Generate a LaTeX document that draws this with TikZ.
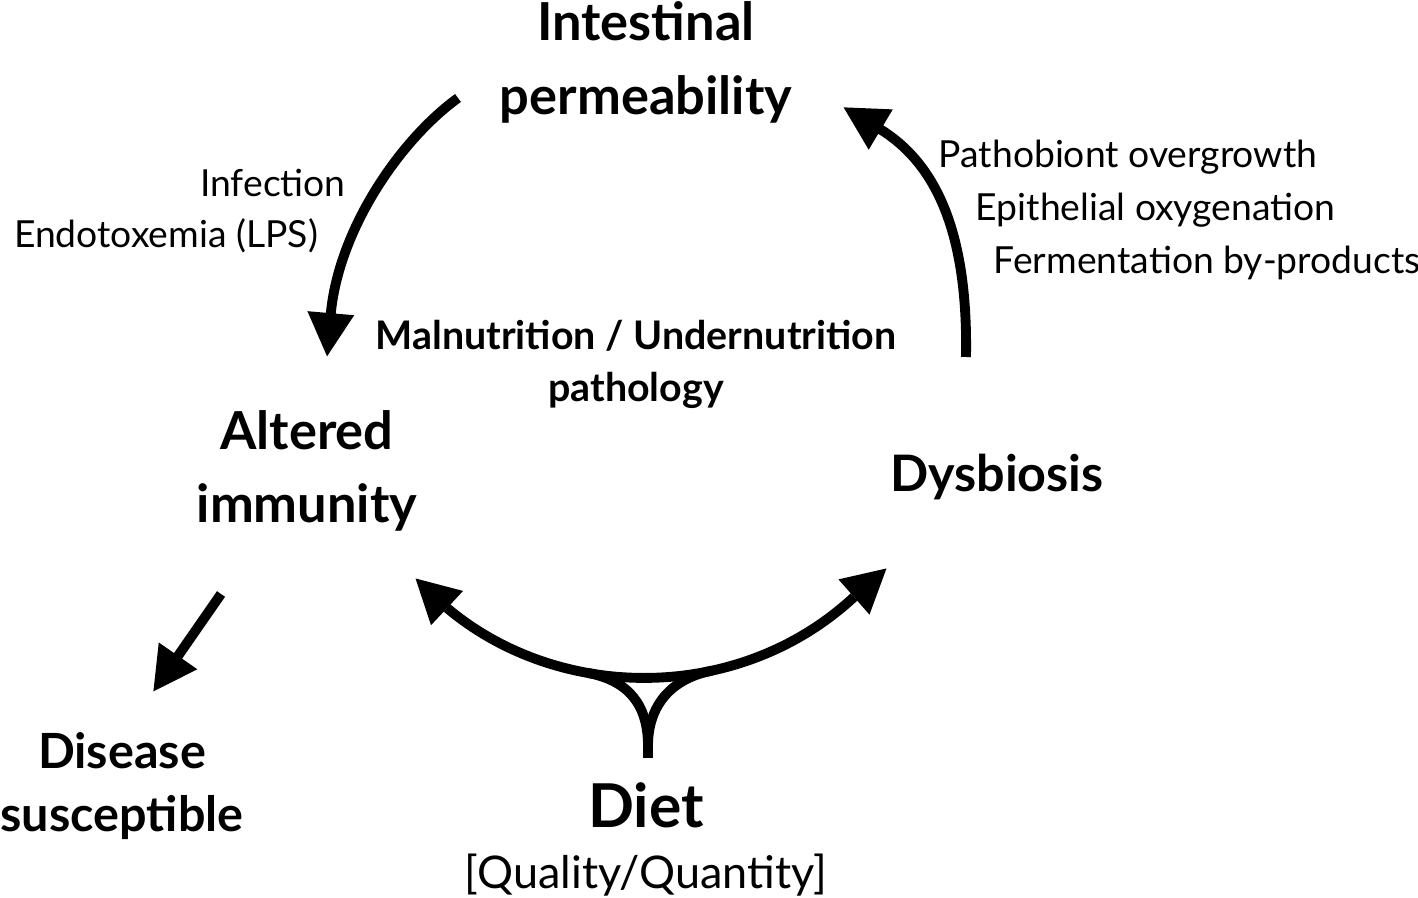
\documentclass[tikz,border=0pt]{standalone}
\usepackage{fontspec}
\setmainfont{Lato}
\usetikzlibrary{arrows.meta,calc}

\begin{document}
\begin{tikzpicture}
  [x=0.01cm,y=-0.01cm,every node/.style={inner sep=0pt,align=center},
   title/.style={font=\bfseries\fontsize{14.9}{21}\selectfont},
   note/.style={font=\fontsize{10.6}{13}\selectfont},
   arr/.style={line width=2.8pt,-{Triangle[length=12.5pt,width=12.5pt]}},
   stem/.style={line width=2.8pt}]
  \useasboundingbox (0,0) rectangle (1418,898);

  \node [title] (perm) at (646,62) {Intestinal\\permeability};
  \node [title,font=\bfseries\fontsize{14.9}{20.7}\selectfont] (immun) at (307,471) {Altered\\immunity};
  \node [title,font=\bfseries\fontsize{14.3}{20}\selectfont] (dysb) at (997,477) {Dysbiosis};
  \node [title,font=\bfseries\fontsize{13.8}{17.9}\selectfont] (disease) at (122,786) {Disease\\susceptible};
  \node [title,font=\bfseries\fontsize{11.2}{14.8}\selectfont] (maln) at (636,364) {Malnutrition / Undernutrition\\pathology};
  \node [title,font=\bfseries\fontsize{17.2}{20}\selectfont] (diet) at (646,805) {Diet};
  \node [font=\fontsize{12.8}{15}\selectfont] (dietq) at (646,875) {[Quality/Quantity]};

  \node [note] (infect) at (273,183) {Infection};
  \node [note] (endotox) at (166,236) {Endotoxemia (LPS)};
  \node [note,anchor=west] (patho) at (938,157) {Pathobiont overgrowth};
  \node [note,anchor=west] (epith) at (975,210) {Epithelial oxygenation};
  \node [note,anchor=west] (ferment) at (993,263) {Fermentation by-products};

  % arrow ends
  \coordinate (permL) at (458,98);
  \coordinate (immunT) at (327,357);
  \coordinate (dysbT) at (966,357);
  \coordinate (permR) at (843,107);
  \coordinate (immunB) at (221,594);
  \coordinate (diseaseT) at (153,692);
  \coordinate (immunR) at (415,578);
  \coordinate (dysbL) at (887,568);
  \coordinate (arcL) at (447,608);
  \coordinate (arcR) at (854,597);
  \coordinate (dietT) at (648,758);
  \coordinate (fork) at (648,746);

  \draw [arr] (permL) .. controls (400,140) and (338,230) .. (immunT);
  \draw [arr] (dysbT) .. controls (968,240) and (940,165) .. (permR);
  \draw [arr] (immunB) -- (diseaseT);

  % diet arc, tips drawn on their own
  \draw [stem] (arcL) .. controls (560,703) and (740,703) .. (arcR)
    coordinate [pos=0.36] (joinL) coordinate [pos=0.64] (joinR);
  \draw [arr] ($(arcL)!0.5!(immunR)$) -- (immunR);
  \draw [arr] ($(arcR)!0.5!(dysbL)$) -- (dysbL);

  \draw [stem] (dietT) -- (fork);
  \draw [stem,line cap=round] (fork) .. controls (648,705) and ($(joinL)+(40,8)$) .. (joinL);
  \draw [stem,line cap=round] (fork) .. controls (648,705) and ($(joinR)+(-40,8)$) .. (joinR);

\end{tikzpicture}
\end{document}
